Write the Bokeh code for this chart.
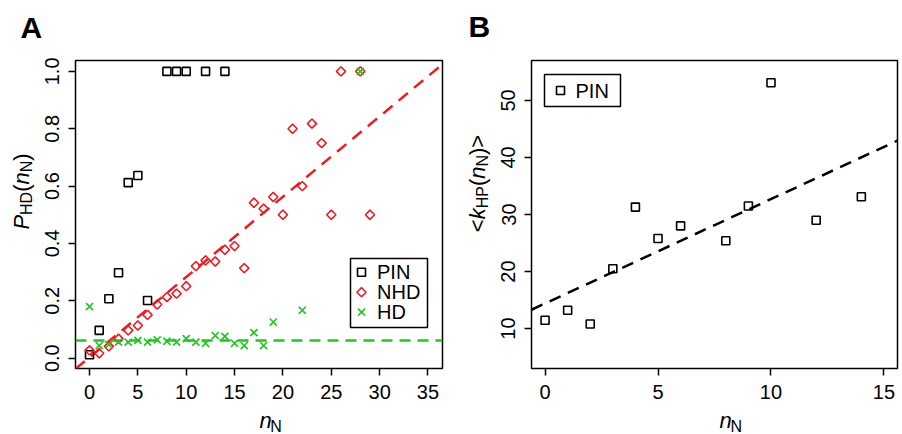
import numpy as np
from math import pi
from bokeh.plotting import figure
from bokeh.layouts import row, column
from bokeh.models import FixedTicker, Range1d, PrintfTickFormatter
from bokeh.core.properties import value
from bokeh.embed import file_html
from bokeh.resources import INLINE

FONT = "Liberation Sans"
RED = "#ec1c24"
GREEN = "#26c426"

# ---------------- Panel A data ----------------
pin_a_x = [0, 1, 2, 3, 4, 5, 6, 8, 9, 10, 12, 14]
pin_a_y = [0.012, 0.097, 0.207, 0.298, 0.612, 0.637, 0.201, 1.0, 1.0, 1.0, 1.0, 1.0]

nhd_x = [0, 1, 2, 3, 4, 5, 6, 7, 8, 9, 10, 11, 12, 13, 14, 15, 16, 17, 18, 19,
         20, 21, 22, 23, 24, 25, 26, 28, 29]
nhd_y = [0.027, 0.017, 0.041, 0.068, 0.097, 0.114, 0.151, 0.187, 0.213, 0.225,
         0.251, 0.321, 0.341, 0.337, 0.378, 0.391, 0.314, 0.542, 0.521, 0.562,
         0.500, 0.800, 0.600, 0.818, 0.750, 0.500, 1.0, 1.0, 0.500]

hd_x = [0, 1, 2, 3, 4, 5, 6, 7, 8, 9, 10, 11, 12, 13, 14, 15, 16, 17, 18, 19, 22, 28]
hd_y = [0.180, 0.044, 0.047, 0.056, 0.056, 0.062, 0.056, 0.064, 0.059, 0.056,
        0.068, 0.056, 0.052, 0.079, 0.076, 0.052, 0.044, 0.089, 0.044, 0.126,
        0.167, 1.0]

nhd_fit = (0.003, 0.028)      # intercept, slope
hd_level = 0.062

a_xticks = [0, 5, 10, 15, 20, 25, 30, 35]
a_yticks = [0.0, 0.2, 0.4, 0.6, 0.8, 1.0]
a_series = ["PIN", "NHD", "HD"]

# ---------------- Panel B data ----------------
pin_b_x = [0, 1, 2, 3, 4, 5, 6, 8, 9, 10, 12, 14]
pin_b_y = [11.45, 13.2, 10.8, 20.5, 31.3, 25.8, 28.0, 25.4, 31.5, 53.1, 29.0, 33.1]
pin_b_fit = (14.4, 1.83)

b_xticks = [0, 5, 10, 15]
b_yticks = [10, 20, 30, 40, 50]
b_series = ["PIN"]

# marker styles
STY_PIN = dict(marker="square", size=8, fill_color=None, line_color="black", line_width=1.6)
STY_NHD = dict(marker="square", angle=pi / 4, size=6.5, fill_color=None, line_color=RED, line_width=1.6)
STY_HD = dict(marker="x", size=10, line_color=GREEN, line_width=1.7)

# char widths (em) for composing labels
CW = {'P': .667, 'H': .722, 'D': .722, '(': .333, ')': .333, 'n': .556,
      'N': .722, '<': .584, '>': .584, 'k': .5}
MID = 0.3465   # baseline-to-middle offset (em)
SUB = 3        # subscript drop (px)


def twidth(s, size):
    return sum(CW.get(c, .556) for c in s) * size


def blank(w, h):
    p = figure(width=w, height=h, x_range=Range1d(0, w), y_range=Range1d(0, h),
               min_border=0, x_axis_type=None, y_axis_type=None,
               title_location=None, output_backend="svg",
               toolbar_location=None, background_fill_color="white",
               border_fill_color="white")
    p.outline_line_color = None
    return p


def txt(p, x, y, t, size, style="normal", angle=0.0, align="left"):
    """x, y: baseline anchor in the figure's data (pixel) coords."""
    if angle == 0:
        y = y + MID * size
    else:
        x = x - MID * size
    p.text(x=[x], y=[y], text=[t], angle=angle,
           text_font=value(FONT), text_font_size=value(f"{size}px"),
           text_font_style=value(style),
           text_align=align, text_baseline="middle", text_color="black")


def xtitle(p, cx, base):
    w = twidth("n", 22) + twidth("N", 16)
    x0 = cx - w / 2
    txt(p, x0, base, "n", 22, "italic")
    txt(p, x0 + twidth("n", 22), base - 4, "N", 16)


def ytitle(p, basex, cy, pieces):
    total = sum(twidth(t, s) for t, s, st, sub in pieces)
    y = cy - total / 2
    for t, s, st, sub in pieces:
        txt(p, basex + (SUB if sub else 0), y, t, s, st, angle=pi / 2)
        y += twidth(t, s)


def make_fig(xr, yr, fw, fh, bl, br, bt, bb, xt, yt):
    p = figure(x_range=Range1d(*xr), y_range=Range1d(*yr),
               frame_width=fw, frame_height=fh,
               min_border_left=bl, min_border_right=br,
               min_border_top=bt, min_border_bottom=bb,
               title_location=None, output_backend="svg",
               toolbar_location=None, background_fill_color="white",
               border_fill_color="white")
    p.grid.visible = False
    p.outline_line_color = "black"
    p.outline_line_width = 1.5
    p.xaxis.ticker = FixedTicker(ticks=xt, minor_ticks=[])
    p.yaxis.ticker = FixedTicker(ticks=yt, minor_ticks=[])
    for ax in (p.xaxis[0], p.yaxis[0]):
        ax.axis_line_color = None
        ax.major_tick_out = 7
        ax.major_tick_in = 0
        ax.major_tick_line_width = 1.5
        ax.major_tick_line_color = "black"
        ax.major_label_text_font = FONT
        ax.major_label_text_font_size = "20px"
        ax.major_label_text_color = "black"
        ax.major_label_standoff = 9
    p.yaxis.major_label_orientation = "vertical"
    return p


def legend_box(p, fl, ft, fw, fh, box, entries, font=20):
    """Legend drawn inside the frame; box/entries in page pixels."""
    x0, x1 = p.x_range.start, p.x_range.end
    y0, y1 = p.y_range.start, p.y_range.end
    X = lambda px: x0 + (px - fl) / fw * (x1 - x0)
    Y = lambda py: y1 - (py - ft) / fh * (y1 - y0)
    l, t, r, b = box
    p.quad(left=[X(l)], right=[X(r)], top=[Y(t)], bottom=[Y(b)],
           fill_color="white", line_color="black", line_width=1.5)
    for gx, gy, tx, label, sty in entries:
        p.scatter([X(gx)], [Y(gy)], **sty)
        p.text([X(tx)], [Y(gy)], text=[label], text_font=value(FONT),
               text_font_size=value(f"{font}px"), text_align="left",
               text_baseline="middle", text_color="black")


# ================= layout geometry (page pixels) =================
TOP_H = 48
YLAB_W = 36
FRAME_T, FRAME_H = 60, 308
BOT_B = 39
XLAB_H = 434 - (FRAME_T + FRAME_H + BOT_B)
PAGE_H = 434

# ================= Panel A =================
AL, AW = 75, 367
a_xr = (-1.45, 36.5)
a_yr = (-0.036, 1.038)
pa = make_fig(a_xr, a_yr, AW, FRAME_H, AL - YLAB_W, 14, FRAME_T - TOP_H, BOT_B,
              a_xticks, a_yticks)
pa.yaxis.formatter = PrintfTickFormatter(format="%.1f")

xs = np.array(a_xr)
pa.line(xs, nhd_fit[0] + nhd_fit[1] * xs, line_color=RED, line_width=2.5,
        line_dash="12 8")
pa.line(xs, [hd_level, hd_level], line_color=GREEN, line_width=2.5,
        line_dash="11 7")

pa.scatter(pin_a_x, pin_a_y, **STY_PIN)
pa.scatter(nhd_x, nhd_y, **STY_NHD)
pa.scatter(hd_x, hd_y, **STY_HD)

legend_box(pa, AL, FRAME_T, AW, FRAME_H, (350, 258, 427, 327),
           [(361, 271.7, 376.5, a_series[0], STY_PIN),
            (361, 291.7, 376.5, a_series[1], STY_NHD),
            (361, 311.7, 376.5, a_series[2], STY_HD)])

a_total_w = (AL - YLAB_W) + AW + 14
ylab_a = blank(YLAB_W, PAGE_H - TOP_H)
xlab_a = blank(a_total_w, XLAB_H)
ytitle(ylab_a, 29, PAGE_H - 191,
       [("P", 22, "italic", False), ("HD", 16, "normal", True),
        ("(", 22, "normal", False), ("n", 22, "italic", False),
        ("N", 16, "normal", True), (")", 22, "normal", False)])
xtitle(xlab_a, (AL - YLAB_W) + AW / 2, PAGE_H - 428)

# ================= Panel B =================
b_start = YLAB_W + a_total_w + YLAB_W
BL, BW = 531, 366
b_xr = (-0.6, 15.6)
b_yr = (3.0, 57.0)
pb = make_fig(b_xr, b_yr, BW, FRAME_H, BL - b_start, 4, FRAME_T - TOP_H, BOT_B,
              b_xticks, b_yticks)

xb = np.array(b_xr)
pb.line(xb, pin_b_fit[0] + pin_b_fit[1] * xb, line_color="black",
        line_width=2.5, line_dash="12 8")
pb.scatter(pin_b_x, pin_b_y, **STY_PIN)

legend_box(pb, BL, FRAME_T, BW, FRAME_H, (544, 74, 620, 106),
           [(560, 90, 575, b_series[0], STY_PIN)])

b_total_w = (BL - b_start) + BW + 4
ylab_b = blank(YLAB_W, PAGE_H - TOP_H)
xlab_b = blank(b_total_w, XLAB_H)
ytitle(ylab_b, 29, PAGE_H - 183,
       [("<", 22, "normal", False), ("k", 22, "italic", False),
        ("HP", 16, "normal", True), ("(", 22, "normal", False),
        ("n", 22, "italic", False), ("N", 16, "normal", True),
        (")", 22, "normal", False), (">", 22, "normal", False)])
xtitle(xlab_b, (BL - b_start) + BW / 2, PAGE_H - 428)

# ================= top strip with panel letters =================
total_w = b_start + b_total_w
top = blank(total_w, TOP_H)
txt(top, 20, TOP_H - 37, "A", 30, "bold")
txt(top, 468, TOP_H - 36, "B", 30, "bold")

layout = column(top, row(ylab_a, column(pa, xlab_a), ylab_b, column(pb, xlab_b)))
open("out.html", "w").write(file_html(layout, INLINE))
